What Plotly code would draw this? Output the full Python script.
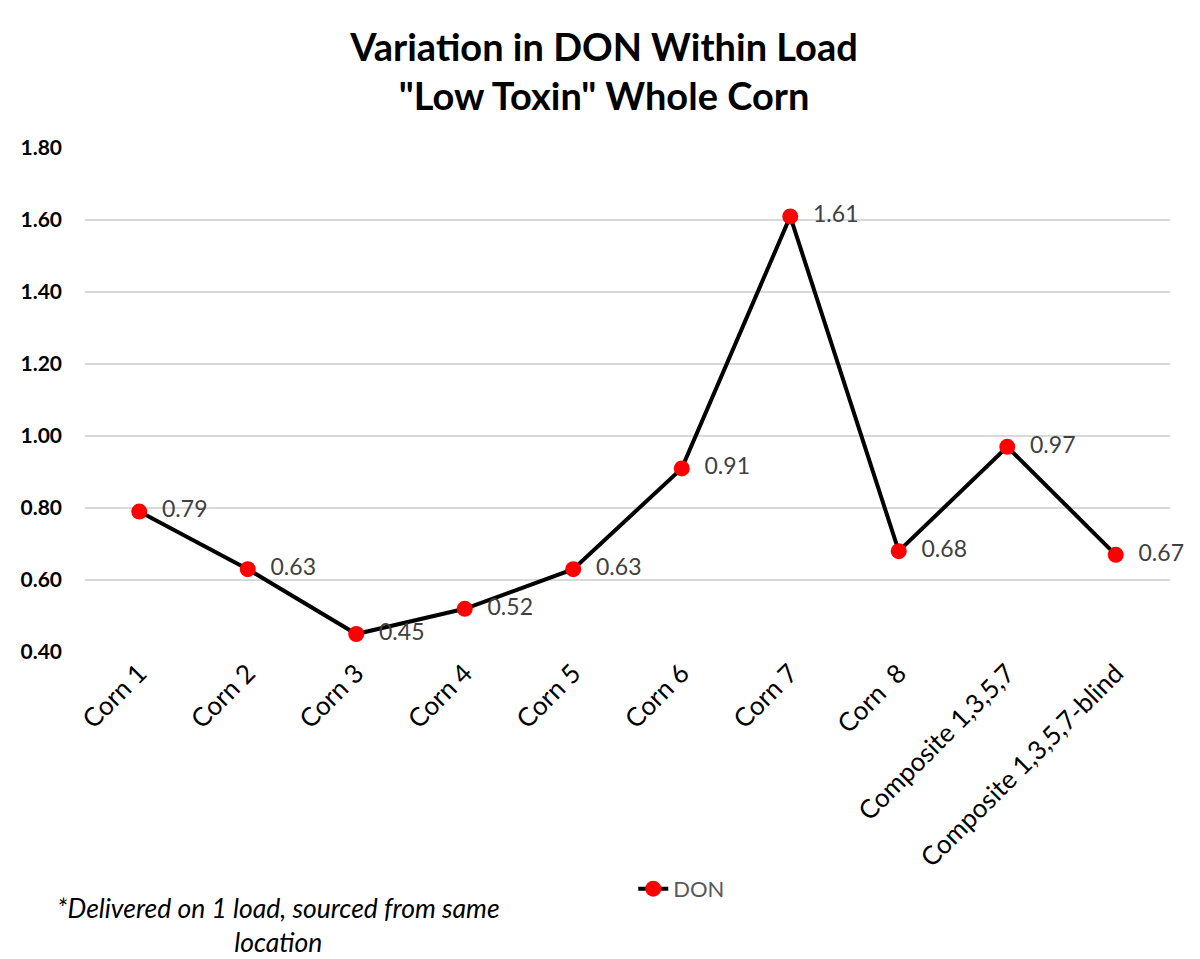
import plotly.graph_objects as go

categories = ["Corn 1", "Corn 2", "Corn 3", "Corn 4", "Corn 5", "Corn 6", "Corn 7",
              "Corn  8", "Composite 1,3,5,7", "Composite 1,3,5,7-blind"]
don_values = [0.79, 0.63, 0.45, 0.52, 0.63, 0.91, 1.61, 0.68, 0.97, 0.67]
y_ticks = [0.40, 0.60, 0.80, 1.00, 1.20, 1.40, 1.60, 1.80]

FONT = "Lato"

fig = go.Figure()
fig.add_trace(go.Scatter(
    x=categories, y=don_values, name="DON",
    mode="lines+markers+text",
    line=dict(color="black", width=4),
    marker=dict(color="#ff0000", size=16),
    text=["  %.2f" % v for v in don_values],
    textposition="middle right",
    textfont=dict(family=FONT, size=23, color="#404040"),
    cliponaxis=False,
))

fig.update_layout(
    width=1192, height=951,
    paper_bgcolor="white", plot_bgcolor="white",
    margin=dict(l=72, r=30, t=140, b=307),
    title=dict(
        text='Variation in DON Within Load<br>"Low Toxin" Whole Corn',
        x=0.5, xanchor="center", y=1 - 53 / 951, yanchor="middle",
        font=dict(family=FONT, size=38, color="black", weight="bold"),
    ),
    xaxis=dict(
        type="category", range=[-0.5, 9.5],
        tickangle=-45, tickfont=dict(family=FONT, size=26, color="black"),
        showgrid=False, showline=False, ticks="", zeroline=False,
    ),
    yaxis=dict(
        range=[0.40, 1.80], tickvals=y_ticks,
        ticktext=["%.2f" % v for v in y_ticks],
        tickfont=dict(family=FONT, size=21, color="black", weight="bold"),
        showgrid=True, gridcolor="#d9d9d9", gridwidth=1.5,
        showline=False, zeroline=False, ticks="", ticklabelstandoff=22,
    ),
    showlegend=True,
    legend=dict(
        orientation="h", x=0.55, xanchor="center", y=-0.47, yanchor="middle",
        font=dict(family=FONT, size=22, color="#595959"),
    ),
    annotations=[dict(
        text="<i>*Delivered on 1 load, sourced from same<br>location</i>",
        xref="paper", yref="paper", x=0.178, y=-0.542,
        xanchor="center", yanchor="middle", showarrow=False,
        font=dict(family=FONT, size=26.5, color="black"),
    )],
)

fig.write_html("out.html")
